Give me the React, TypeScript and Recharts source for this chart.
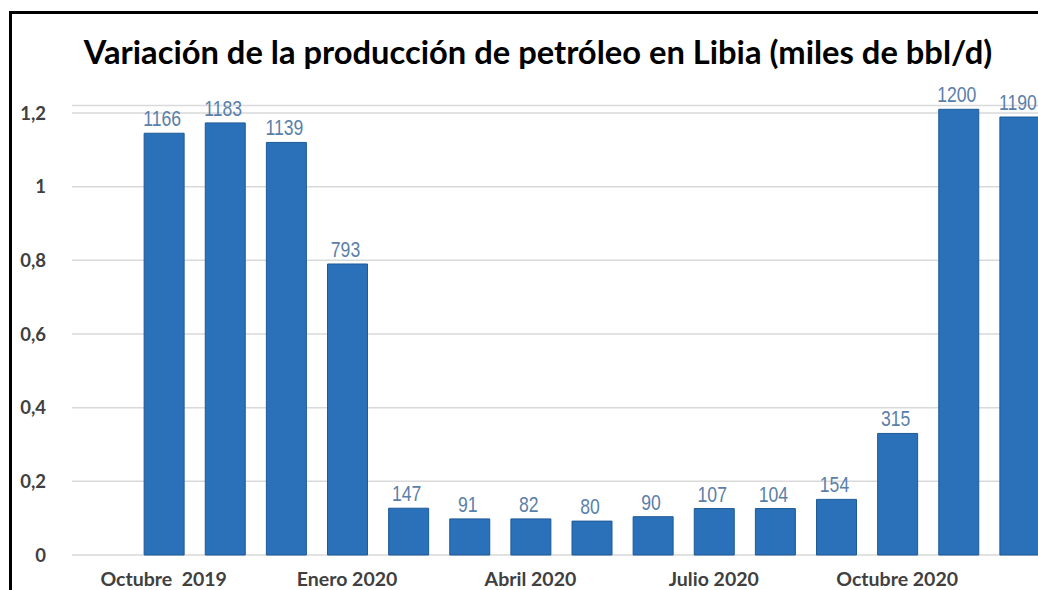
import React from 'react';
import { BarChart, Bar, XAxis, YAxis, CartesianGrid, LabelList } from 'recharts';

// months shown on the chart (first slot left empty, as in the source image)
const months = [
  '', 'Oct 2019', 'Nov 2019', 'Dic 2019', 'Ene 2020', 'Feb 2020', 'Mar 2020', 'Abr 2020',
  'May 2020', 'Jun 2020', 'Jul 2020', 'Ago 2020', 'Sep 2020', 'Oct 2020', 'Nov 2020', 'Dic 2020',
];
// bar heights as drawn (millones bbl/d)
const heights = [
  null, 1.145, 1.173, 1.12, 0.79, 0.127, 0.098, 0.098, 0.092, 0.104, 0.126, 0.126, 0.151, 0.33, 1.21, 1.189,
];
// printed labels (miles bbl/d)
const labels = [
  null, 1166, 1183, 1139, 793, 147, 91, 82, 80, 90, 107, 104, 154, 315, 1200, 1190,
];
const tickLabels: Record<number, string> = {
  1: 'Octubre  2019',
  4: 'Enero 2020',
  7: 'Abril 2020',
  10: 'Julio 2020',
  13: 'Octubre 2020',
};
const yTicks = [0, 0.2, 0.4, 0.6, 0.8, 1, 1.2];

const data = months.map((m, i) => ({ name: m, idx: i, value: heights[i], label: labels[i] }));

const FONT = "Lato, 'Open Sans', sans-serif";

const XTick = (props: any) => {
  const { x, y, payload } = props;
  const text = tickLabels[payload.index] ?? '';
  return (
    <text x={x} y={y} dy={23} textAnchor="middle" fill="#404040" fontSize={19.5}
      fontWeight={700} fontFamily={FONT} style={{ whiteSpace: 'pre' }}>
      {text}
    </text>
  );
};

// narrow-looking value label (the source uses a condensed sans)
const ValueLabel = (props: any) => {
  const { x, y, width, value } = props;
  if (value == null) return null;
  const cx = x + width / 2;
  return (
    <text x={0} y={0} transform={`translate(${cx - 2},${y - 7}) scale(0.8,1)`} textAnchor="middle"
      fill="#5a80aa" fontSize={22} fontFamily="'Liberation Sans', Arial, sans-serif">
      {value}
    </text>
  );
};

export default function App() {
  return (
    <div style={{ position: 'absolute', left: 0, top: 0, width: 1038, height: 590, overflow: 'hidden', background: '#fff' }}>
      {/* frame lines of the pasted picture */}
      <div style={{ position: 'absolute', left: 9, top: 11, width: 1029, height: 3, background: '#000' }} />
      <div style={{ position: 'absolute', left: 9, top: 11, width: 3, height: 579, background: '#000' }} />
      <div style={{
        position: 'absolute', left: 0, top: 32, width: 1076, textAlign: 'center', whiteSpace: 'nowrap',
        fontFamily: FONT, fontWeight: 700, fontSize: 32.7, color: '#000',
      }}>
        Variación de la producción de petróleo en Libia (miles de bbl/d)
      </div>
      <BarChart width={1050} height={590} data={data} style={{ position: 'absolute', left: 0, top: 0 }}
        margin={{ top: 105.6, right: 0, left: 0, bottom: 0 }} barSize={40}>
        <CartesianGrid vertical={false} stroke="#d9d9d9" strokeWidth={1.5} />
        <XAxis dataKey="idx" axisLine={false} tickLine={false} interval={0} height={35} tick={<XTick />} />
        <YAxis domain={[0, 1.22]} ticks={yTicks} width={72} axisLine={false} tickLine={false}
          tickMargin={20} tickFormatter={(v: number) => String(v).replace('.', ',')}
          tick={{ fill: '#404040', fontSize: 18.5, fontWeight: 700, fontFamily: FONT }} />
        <Bar dataKey="value" fill="#2a71b9" stroke="#1e5a96" strokeWidth={1} isAnimationActive={false}>
          <LabelList dataKey="label" content={<ValueLabel />} />
        </Bar>
      </BarChart>
    </div>
  );
}
